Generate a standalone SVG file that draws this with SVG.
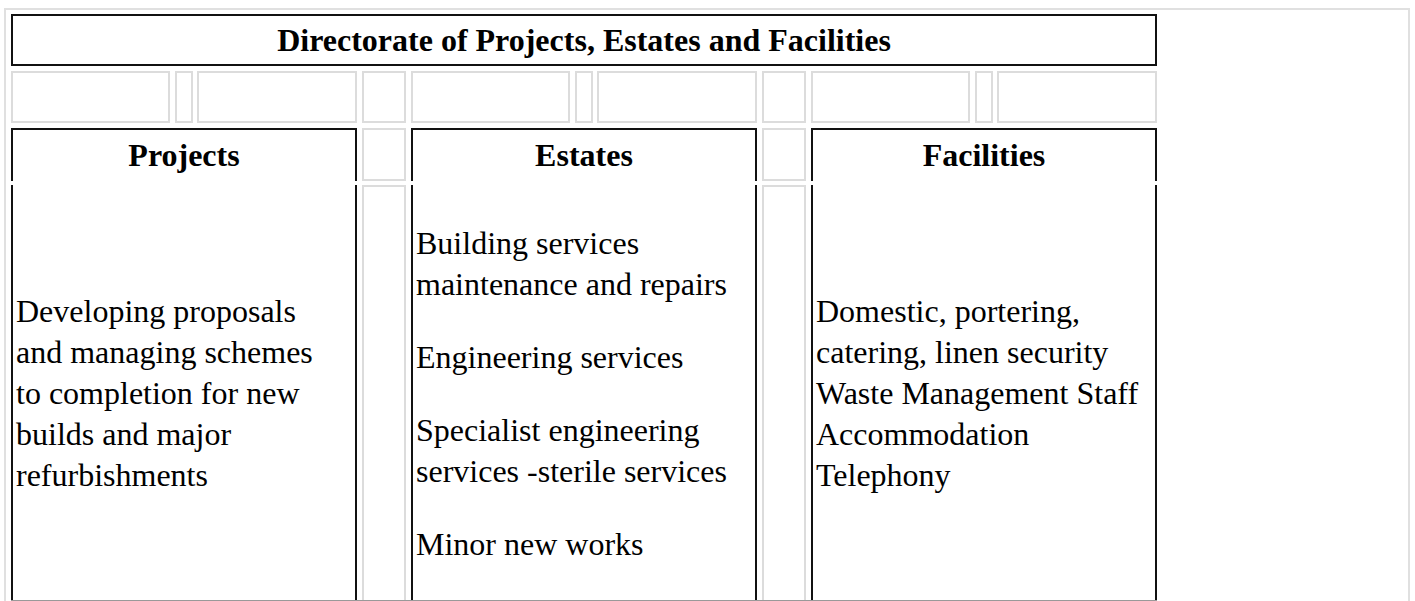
<svg xmlns="http://www.w3.org/2000/svg" width="1415" height="601" viewBox="0 0 1415 601">
<style>
.bg{fill:#fff}
.frame{fill:none;stroke:#e0e0e0;stroke-width:2}
.cell{fill:none;stroke:#dcdcdc;stroke-width:2}
.blk{fill:none;stroke:#111;stroke-width:2}
.h{font-family:"Liberation Serif","Times New Roman",serif;font-weight:bold;font-size:32px;fill:#000;text-anchor:middle}
.t{font-family:"Liberation Serif","Times New Roman",serif;font-size:32px;fill:#000}
</style>
<rect class="bg" x="0" y="0" width="1415" height="601"/>
<rect class="frame" x="5" y="9" width="1404" height="610"/>

<g id="title">
  <rect class="blk" x="12" y="15" width="1144" height="50"/>
  <text class="h" x="584" y="51">Directorate of Projects, Estates and Facilities</text>
</g>

<g id="spacer-row">
  <rect class="cell" x="12" y="72" width="157" height="50"/>
  <rect class="cell" x="176" y="72" width="16" height="50"/>
  <rect class="cell" x="198" y="72" width="158" height="50"/>
  <rect class="cell" x="363" y="72" width="42" height="50"/>
  <rect class="cell" x="412" y="72" width="157" height="50"/>
  <rect class="cell" x="576" y="72" width="16" height="50"/>
  <rect class="cell" x="598" y="72" width="158" height="50"/>
  <rect class="cell" x="763" y="72" width="42" height="50"/>
  <rect class="cell" x="812" y="72" width="157" height="50"/>
  <rect class="cell" x="976" y="72" width="16" height="50"/>
  <rect class="cell" x="998" y="72" width="158" height="50"/>
</g>

<g id="gap1">
  <rect class="cell" x="363" y="129" width="42" height="51"/>
  <rect class="cell" x="363" y="186" width="42" height="430"/>
</g>
<g id="gap2">
  <rect class="cell" x="763" y="129" width="42" height="51"/>
  <rect class="cell" x="763" y="186" width="42" height="430"/>
</g>

<g id="projects">
  <path class="blk" d="M12,181 V129 H356 V181"/>
  <path class="blk" d="M12,185 V601 M356,185 V601"/>
  <text class="h" x="184" y="166">Projects</text>
  <text class="t" x="16" y="322">Developing proposals</text>
  <text class="t" x="16" y="363">and managing schemes</text>
  <text class="t" x="16" y="404">to completion for new</text>
  <text class="t" x="16" y="445">builds and major</text>
  <text class="t" x="16" y="486">refurbishments</text>
</g>

<g id="estates">
  <path class="blk" d="M412,181 V129 H756 V181"/>
  <path class="blk" d="M412,185 V601 M756,185 V601"/>
  <text class="h" x="584" y="166">Estates</text>
  <text class="t" x="416" y="254">Building services</text>
  <text class="t" x="416" y="295">maintenance and repairs</text>
  <text class="t" x="416" y="368">Engineering services</text>
  <text class="t" x="416" y="441">Specialist engineering</text>
  <text class="t" x="416" y="482">services -sterile services</text>
  <text class="t" x="416" y="555">Minor new works</text>
</g>

<g id="facilities">
  <path class="blk" d="M812,181 V129 H1156 V181"/>
  <path class="blk" d="M812,185 V601 M1156,185 V601"/>
  <text class="h" x="984" y="166">Facilities</text>
  <text class="t" x="816" y="322">Domestic, portering,</text>
  <text class="t" x="816" y="363">catering, linen security</text>
  <text class="t" x="816" y="404">Waste Management Staff</text>
  <text class="t" x="816" y="445">Accommodation</text>
  <text class="t" x="816" y="486">Telephony</text>
</g>

<line x1="11" y1="600.5" x2="1157" y2="600.5" stroke="#999" stroke-width="1"/>
</svg>
